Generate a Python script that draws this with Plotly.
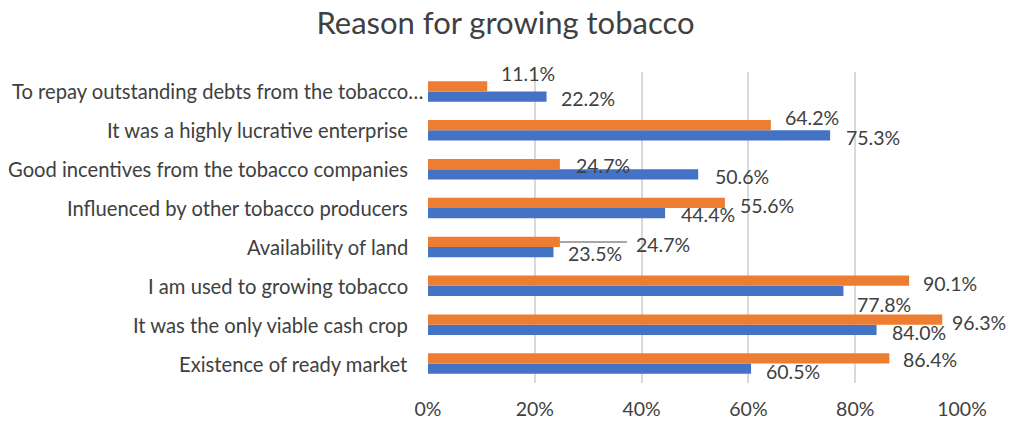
import plotly.graph_objects as go

# Reasons, listed bottom-to-top as they appear on the chart
reasons = [
    "Existence of ready market",
    "It was the only viable cash crop",
    "I am used to growing tobacco",
    "Availability of land",
    "Influenced by other tobacco producers",
    "Good incentives from the tobacco companies",
    "It was a highly lucrative enterprise",
    "To repay outstanding debts from the tobacco…",
]
orange_pct = [86.4, 96.3, 90.1, 24.7, 55.6, 24.7, 64.2, 11.1]
blue_pct = [60.5, 84.0, 77.8, 23.5, 44.4, 50.6, 75.3, 22.2]
x_ticks = [0, 20, 40, 60, 80, 100]
x_tick_text = ["0%", "20%", "40%", "60%", "80%", "100%"]

ORANGE = "#ED7D31"
BLUE = "#4472C4"
TEXT = "#404040"
GRID = "#D9D9D9"
FONT = "Lato"

# label placement: gap right of the bar end, and vertical nudge (px, + = down)
orange_gap = [12, 8, 12, 74, 13, 14, 12, 12]
orange_dy = [-4, -2, -2, -2, -3, -4, -13, -18]
blue_gap = [13, 13, 12, 13, 14, 15, 14, 12]
blue_dy = [8, 8, 19, 7, 6, 7, 7, 7]
# category names sit right-aligned this many px left of the axis
name_pad = [21, 21, 21, 21, 21, 21, 21, 6]

fig = go.Figure()
fig.add_trace(go.Bar(y=reasons, x=blue_pct, orientation="h",
                     marker=dict(color=BLUE, line=dict(width=0)), name="blue"))
fig.add_trace(go.Bar(y=reasons, x=orange_pct, orientation="h",
                     marker=dict(color=ORANGE, line=dict(width=0)), name="orange"))

annotations = []
for cat, pad in zip(reasons, name_pad):
    annotations.append(dict(
        x=0, y=cat, xref="paper", yref="y", text=cat,
        showarrow=False, xanchor="right", yanchor="middle",
        xshift=-pad + 3, font=dict(family=FONT, size=20.2, color=TEXT),
    ))
for vals, gaps, dys in ((orange_pct, orange_gap, orange_dy), (blue_pct, blue_gap, blue_dy)):
    for cat, v, g, d in zip(reasons, vals, gaps, dys):
        annotations.append(dict(
            x=v, y=cat, xref="x", yref="y", text=f"{v:.1f}%",
            showarrow=False, xanchor="left", yanchor="middle",
            xshift=g, yshift=-d, font=dict(family=FONT, size=19.5, color=TEXT),
        ))

# leader line for the moved "Availability of land" label
leader_idx = 3
shapes = [dict(
    type="line", xref="x", yref="y",
    xsizemode="pixel", ysizemode="pixel",
    xanchor=orange_pct[leader_idx], yanchor=reasons[leader_idx],
    x0=0, x1=67, y0=5, y1=5,
    line=dict(color="#A6A6A6", width=2),
)]

fig.update_layout(
    width=1011, height=422,
    margin=dict(l=428, r=49, t=72, b=39),
    paper_bgcolor="white", plot_bgcolor="white",
    showlegend=False,
    barmode="group", bargap=0.47, bargroupgap=0,
    title=dict(text="Reason for growing tobacco", x=0.5, xanchor="center",
               y=0.945, yanchor="middle",
               font=dict(family=FONT, size=31, color=TEXT)),
    xaxis=dict(range=[0, 100], tickvals=x_ticks, ticktext=x_tick_text,
               showgrid=True, gridcolor=GRID, gridwidth=2,
               zeroline=False, showline=False, ticks="",
               ticklabelstandoff=12, automargin=False,
               tickfont=dict(family=FONT, size=19.5, color=TEXT)),
    yaxis=dict(categoryorder="array", categoryarray=reasons,
               range=[-0.5, len(reasons) - 0.5],
               showgrid=False, zeroline=False, showline=False, ticks="",
               showticklabels=False, automargin=False),
    annotations=annotations,
    shapes=shapes,
)

fig.write_html("out.html")
